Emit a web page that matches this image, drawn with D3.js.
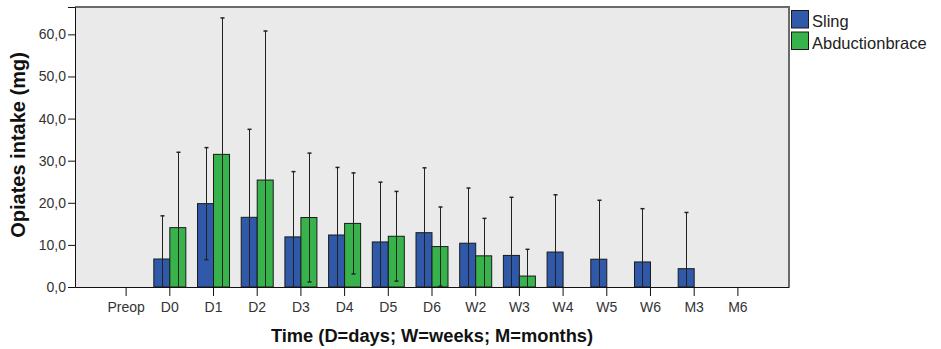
<!DOCTYPE html>
<html>
<head>
<meta charset="utf-8">
<script src="https://cdn.jsdelivr.net/npm/d3@7"></script>
<style>
  html, body { margin: 0; padding: 0; background: #ffffff; }
  svg { display: block; font-family: "Liberation Sans", Arial, sans-serif; }
</style>
</head>
<body>
<svg id="chart" width="941" height="349"></svg>
<script>
const categories = ["Preop","D0","D1","D2","D3","D4","D5","D6","W2","W3","W4","W5","W6","M3","M6"];
const seriesNames = ["Sling","Abductionbrace"];
const slingMean = [0, 6.65, 19.8, 16.55, 11.9, 12.35, 10.7, 12.9, 10.4, 7.5, 8.3, 6.6, 5.95, 4.35, 0];
const slingSD   = [0, 10.25, 13.3, 20.9, 15.5, 16.05, 14.2, 15.4, 13.1, 13.8, 13.6, 14.0, 12.65, 13.35, 0];
const braceMean = [0, 14.1, 31.5, 25.4, 16.5, 15.1, 12.05, 9.6, 7.4, 2.6, 0, 0, 0, 0, 0];
const braceSD   = [0, 17.9, 32.4, 35.4, 15.3, 12.0, 10.65, 9.4, 8.9, 6.35, 0, 0, 0, 0, 0];
const yTicks = [0, 10, 20, 30, 40, 50, 60];
const colors = ["#3059a9", "#38b34b"];

const svg = d3.select("#chart");
const pLeft = 75, pRight = 789, pTop = 7, pBottom = 287;

const x = d3.scaleBand().domain(categories).range([pLeft, pRight]).paddingInner(0).paddingOuter(0.67);
const y = d3.scaleLinear().domain([0, 66.5]).range([pBottom, pTop]);
const sub = d3.scaleBand().domain(seriesNames).range([-16, 16]);

// plot background
svg.append("rect").attr("x", pLeft).attr("y", pTop).attr("width", pRight - pLeft).attr("height", pBottom - pTop)
  .attr("fill", "#eaeaea");
svg.append("line").attr("x1", pLeft).attr("x2", pRight + 1).attr("y1", pTop).attr("y2", pTop)
  .attr("stroke", "#6a6a6a").attr("stroke-width", 2);
svg.append("line").attr("x1", pRight).attr("x2", pRight).attr("y1", pTop).attr("y2", pBottom)
  .attr("stroke", "#6a6a6a").attr("stroke-width", 2);

const series = [
  {name: seriesNames[0], mean: slingMean, sd: slingSD, color: colors[0]},
  {name: seriesNames[1], mean: braceMean, sd: braceSD, color: colors[1]}
];

series.forEach(s => {
  const data = categories.map((c, i) => ({c, m: s.mean[i], sd: s.sd[i]}));
  const g = svg.append("g");
  g.selectAll("rect").data(data).enter().append("rect")
    .attr("x", d => x(d.c) + x.bandwidth() / 2 + sub(s.name))
    .attr("y", d => y(d.m))
    .attr("width", sub.bandwidth())
    .attr("height", d => y(0) - y(d.m))
    .attr("fill", s.color)
    .attr("stroke", d => d.m > 0 ? "#1a1a1a" : "#9a9a9a")
    .attr("stroke-width", 1);
});

series.forEach(s => {
  const data = categories.map((c, i) => ({c, m: s.mean[i], sd: s.sd[i]})).filter(d => d.m > 0);
  const g = svg.append("g");
  const cx = d => Math.round(x(d.c) + x.bandwidth() / 2 + sub(s.name) + sub.bandwidth() / 2) + 0.5;
  g.selectAll("line.eb").data(data).enter().append("line")
    .attr("x1", cx).attr("x2", cx)
    .attr("y1", d => y(d.m + d.sd))
    .attr("y2", d => y(Math.max(0, d.m - d.sd)))
    .attr("stroke", "#222").attr("stroke-width", 1);
  g.selectAll("line.cap").data(data).enter().append("line")
    .attr("x1", d => cx(d) - 2).attr("x2", d => cx(d) + 2)
    .attr("y1", d => y(d.m + d.sd)).attr("y2", d => y(d.m + d.sd))
    .attr("stroke", "#222").attr("stroke-width", 1.5);
  g.selectAll("line.capl").data(data.filter(d => d.m - d.sd > 0)).enter().append("line")
    .attr("x1", d => cx(d) - 2).attr("x2", d => cx(d) + 2)
    .attr("y1", d => y(d.m - d.sd)).attr("y2", d => y(d.m - d.sd))
    .attr("stroke", "#222").attr("stroke-width", 1.5);
});

// axes
const yAxis = d3.axisLeft(y).tickValues(yTicks).tickSize(7).tickPadding(2)
  .tickFormat(d => d3.format(".1f")(d).replace(".", ","));
const gy = svg.append("g").attr("transform", `translate(${pLeft},0)`).call(yAxis);
gy.select(".domain").attr("stroke", "#111");
gy.selectAll(".tick line").attr("stroke", "#111");
gy.selectAll("text").attr("font-size", 14).attr("fill", "#333").attr("font-family", "Liberation Sans, Arial, sans-serif");

const xAxis = d3.axisBottom(x).tickSize(9).tickPadding(6).tickSizeOuter(0);
const gx = svg.append("g").attr("transform", `translate(0,${pBottom})`).call(xAxis);
gx.select(".domain").attr("stroke", "#111");
gx.selectAll(".tick line").attr("stroke", "#111");
gx.selectAll("text").attr("font-size", 14).attr("fill", "#333").attr("font-family", "Liberation Sans, Arial, sans-serif");

// titles
svg.append("text").attr("x", 432).attr("y", 342).attr("text-anchor", "middle")
  .attr("font-size", 18.3).attr("font-weight", "bold").attr("fill", "#111")
  .text("Time (D=days; W=weeks; M=months)");
svg.append("text").attr("transform", "translate(25,145) rotate(-90)").attr("text-anchor", "middle")
  .attr("font-size", 20).attr("font-weight", "bold").attr("fill", "#111")
  .text("Opiates intake (mg)");

// legend
const lg = svg.append("g");
series.forEach((s, i) => {
  lg.append("rect").attr("x", 791.5).attr("y", 10.5 + i * 21.5).attr("width", 17).attr("height", 17.5)
    .attr("fill", s.color).attr("stroke", "#1a1a1a").attr("stroke-width", 1);
  lg.append("text").attr("x", 812).attr("y", 27 + i * 21.5).attr("font-size", 16.5).attr("fill", "#222")
    .text(s.name);
});
</script>
</body>
</html>
